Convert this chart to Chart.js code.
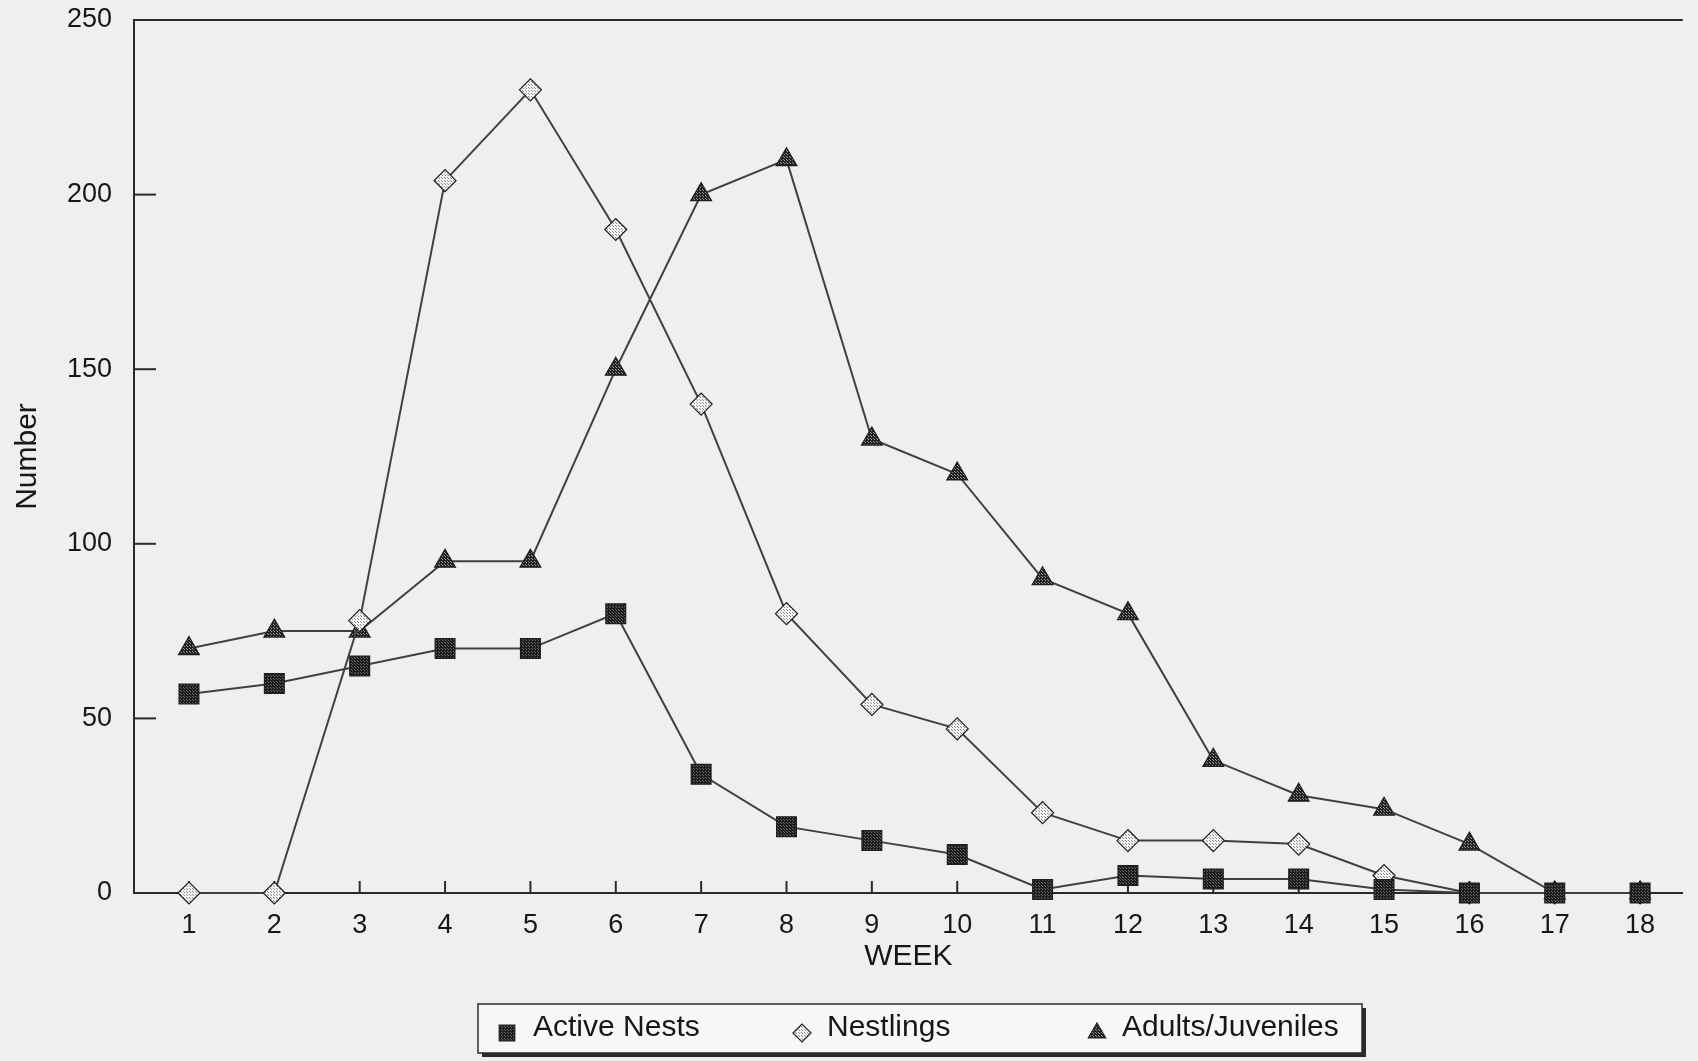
<!DOCTYPE html>
<html>
<head>
<meta charset="utf-8">
<script src="https://cdn.jsdelivr.net/npm/chart.js@4"></script>
<style>
  html, body { margin: 0; padding: 0; background: #eef0ee; }
  #wrap { width: 1698px; height: 1061px; position: relative; }
</style>
</head>
<body>
<div id="wrap"><canvas id="c" width="1698" height="1061"></canvas></div>
<script>
// ---- data ----
const weeks = [1, 2, 3, 4, 5, 6, 7, 8, 9, 10, 11, 12, 13, 14, 15, 16, 17, 18];
const activeNests = [57, 60, 65, 70, 70, 80, 34, 19, 15, 11, 1, 5, 4, 4, 1, 0, 0, 0];
const nestlings = [0, 0, 78, 204, 230, 190, 140, 80, 54, 47, 23, 15, 15, 14, 5, 0, 0, 0];
const adultsJuveniles = [70, 75, 75, 95, 95, 150, 200, 210, 130, 120, 90, 80, 38, 28, 24, 14, 0, 0];
const yTickValues = [0, 50, 100, 150, 200, 250];
const seriesNames = ['Active Nests', 'Nestlings', 'Adults/Juveniles'];

const FONT = '"Liberation Sans", Arial, Helvetica, sans-serif';
const INK = '#151815';

function makePattern(base, dot, step) {
  const p = document.createElement('canvas');
  p.width = step; p.height = step;
  const g = p.getContext('2d');
  g.fillStyle = base; g.fillRect(0, 0, step, step);
  g.fillStyle = dot; g.fillRect(0, 0, 1, 1);
  g.fillRect(Math.floor(step / 2), Math.floor(step / 2), 1, 1);
  return document.getElementById('c').getContext('2d').createPattern(p, 'repeat');
}
const squareFill = makePattern('#1c1c1c', '#6a6a6a', 3);
const diamondFill = makePattern('#f4f4f2', '#8a8a8a', 3);
const triangleFill = makePattern('#222', '#9a9a9a', 3);

const toXY = arr => weeks.map((w, i) => ({ x: w, y: arr[i] }));

const bgPlugin = {
  id: 'bg',
  beforeDraw(chart) {
    const ctx = chart.ctx;
    ctx.save();
    ctx.fillStyle = '#eef0ee';
    ctx.fillRect(0, 0, chart.width, chart.height);
    ctx.restore();
  }
};

const framePlugin = {
  id: 'frame',
  beforeDatasetsDraw(chart) {
    const ctx = chart.ctx, a = chart.chartArea;
    const ys = chart.scales.y, xs = chart.scales.x;
    ctx.save();
    ctx.strokeStyle = '#2a2a2a';
    ctx.lineWidth = 2;
    ctx.beginPath(); ctx.moveTo(a.left, a.top); ctx.lineTo(a.right, a.top); ctx.stroke();
    yTickValues.forEach(v => {
      if (v === 0 || v === 250) return;
      const y = ys.getPixelForValue(v);
      ctx.beginPath(); ctx.moveTo(a.left, y); ctx.lineTo(a.left + 22, y); ctx.stroke();
    });
    weeks.forEach(w => {
      const x = xs.getPixelForValue(w);
      ctx.beginPath(); ctx.moveTo(x, a.bottom); ctx.lineTo(x, a.bottom - 12); ctx.stroke();
    });
    ctx.restore();
  }
};

const legendPlugin = {
  id: 'customLegend',
  afterDraw(chart) {
    const ctx = chart.ctx;
    const box = { l: 478, t: 1004, r: 1362, b: 1053 };
    ctx.save();
    ctx.fillStyle = '#2a2a2a';
    ctx.fillRect(box.l + 4, box.b, box.r - box.l, 4);
    ctx.fillRect(box.r, box.t + 4, 4, box.b - box.t);
    ctx.fillStyle = '#f7f8f6';
    ctx.fillRect(box.l, box.t, box.r - box.l, box.b - box.t);
    ctx.strokeStyle = '#2a2a2a';
    ctx.lineWidth = 1.5;
    ctx.strokeRect(box.l, box.t, box.r - box.l, box.b - box.t);
    const items = [
      { x: 507, tx: 533, style: 'rect', fill: squareFill, r: 11 },
      { x: 802, tx: 827, style: 'rectRot', fill: diamondFill, r: 9 },
      { x: 1097, tx: 1122, style: 'triangle', fill: triangleFill, r: 10 }
    ];
    items.forEach((it, i) => {
      ctx.fillStyle = it.fill;
      ctx.strokeStyle = '#1e1e1e';
      ctx.lineWidth = 1.2;
      Chart.helpers.drawPoint(ctx, { pointStyle: it.style, radius: it.r, rotation: 0, borderWidth: 1.2 }, it.x, 1033);
      ctx.fillStyle = INK;
      ctx.font = '30px ' + FONT;
      ctx.textBaseline = 'alphabetic';
      ctx.textAlign = 'left';
      ctx.fillText(seriesNames[i], it.tx, 1036);
    });
    ctx.restore();
  }
};

const lineColor = '#404040';
const markBorder = '#1e1e1e';

new Chart(document.getElementById('c'), {
  type: 'line',
  data: {
    datasets: [
      {
        label: seriesNames[0], data: toXY(activeNests), clip: false,
        borderColor: lineColor, borderWidth: 2,
        pointStyle: 'rect', pointRadius: 14, pointBackgroundColor: squareFill,
        pointBorderColor: markBorder, pointBorderWidth: 1.2
      },
      {
        label: seriesNames[1], data: toXY(nestlings), clip: false,
        borderColor: lineColor, borderWidth: 2,
        pointStyle: 'rectRot', pointRadius: 11, pointBackgroundColor: diamondFill,
        pointBorderColor: markBorder, pointBorderWidth: 1.2
      },
      {
        label: seriesNames[2], data: toXY(adultsJuveniles), clip: false,
        borderColor: lineColor, borderWidth: 2,
        pointStyle: 'triangle', pointRadius: 12, pointBackgroundColor: triangleFill,
        pointBorderColor: markBorder, pointBorderWidth: 1.2
      }
    ]
  },
  options: {
    responsive: false,
    animation: false,
    layout: { padding: { top: 20, right: 0, bottom: 78, left: 0 } },
    plugins: { legend: { display: false }, tooltip: { enabled: false } },
    elements: { line: { tension: 0 } },
    scales: {
      x: {
        type: 'linear', min: 0.356, max: 18.5,
        afterBuildTicks(scale) { scale.ticks = weeks.map(v => ({ value: v })); },
        afterFit(scale) { scale.height = 90; scale.paddingLeft = 0; scale.paddingRight = 0; },
        grid: { display: false },
        border: { display: true, color: '#2a2a2a', width: 2 },
        ticks: { color: INK, font: { family: FONT, size: 27 }, padding: 8, maxRotation: 0, autoSkip: false },
        title: { display: true, text: 'WEEK', color: INK, font: { family: FONT, size: 30 }, padding: { top: 0, bottom: 8 } }
      },
      y: {
        type: 'linear', min: 0, max: 250,
        afterBuildTicks(scale) { scale.ticks = yTickValues.map(v => ({ value: v })); },
        afterFit(scale) { scale.width = 134; scale.paddingTop = 0; scale.paddingBottom = 0; },
        grid: { display: false },
        border: { display: true, color: '#2a2a2a', width: 2 },
        ticks: { color: INK, font: { family: FONT, size: 27 }, padding: 14 },
        title: { display: true, text: 'Number', color: INK, font: { family: FONT, size: 30 }, padding: { top: 10, bottom: 0 } }
      }
    }
  },
  plugins: [bgPlugin, framePlugin, legendPlugin]
});
</script>
</body>
</html>
